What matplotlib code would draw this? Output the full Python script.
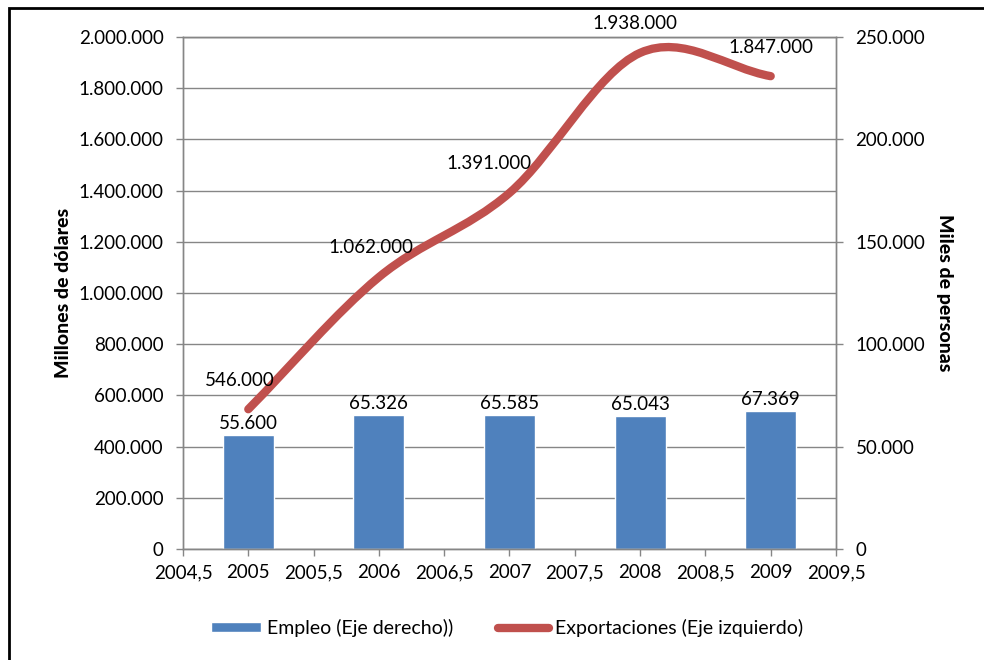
import matplotlib.pyplot as plt
from matplotlib.path import Path
from matplotlib.patches import PathPatch, Patch, Rectangle
from matplotlib.lines import Line2D
from matplotlib.ticker import FuncFormatter, MultipleLocator

plt.rcParams['font.family'] = ['Lato', 'DejaVu Sans']

# datos
years = [2005, 2006, 2007, 2008, 2009]
empleo = [55600, 65326, 65585, 65043, 67369]              # miles de personas
exportaciones = [546000, 1062000, 1391000, 1938000, 1847000]  # millones de dolares
empleo_lbl = ['55.600', '65.326', '65.585', '65.043', '67.369']
export_lbl = ['546.000', '1.062.000', '1.391.000', '1.938.000', '1.847.000']
export_lbl_dx = [-6, -6, -15, -4, 0]   # desplazamiento horizontal de etiquetas (pt)

blue = '#4F81BD'
red = '#C0504D'
grid_c = '#868686'


def miles(v, pos):
    return f'{int(round(v)):,}'.replace(',', '.')


def anios(v, pos):
    if abs(v - round(v)) < 1e-6:
        return str(int(round(v)))
    return f'{v:.1f}'.replace('.', ',')


def suavizar(x, y):
    # curva bezier tipo catmull-rom como la linea suavizada de excel
    n = len(x)
    m = []
    for i in range(n):
        if i == 0:
            m.append((y[1] - y[0]) / (x[1] - x[0]))
        elif i == n - 1:
            m.append((y[-1] - y[-2]) / (x[-1] - x[-2]))
        else:
            m.append((y[i + 1] - y[i - 1]) / (x[i + 1] - x[i - 1]))
    verts = [(x[0], y[0])]
    codes = [Path.MOVETO]
    for i in range(n - 1):
        dx = (x[i + 1] - x[i]) / 3
        verts += [(x[i] + dx, y[i] + m[i] * dx),
                  (x[i + 1] - dx, y[i + 1] - m[i + 1] * dx),
                  (x[i + 1], y[i + 1])]
        codes += [Path.CURVE4] * 3
    return Path(verts, codes)


fig = plt.figure(figsize=(9.84, 6.6), dpi=100)
ax = fig.add_axes([183 / 984, 1 - 549 / 660, (836 - 183) / 984, (549 - 37) / 660])
ax2 = ax.twinx()

# barras: empleo en el eje derecho
bars = ax2.bar(years, empleo, width=0.39, color=blue, edgecolor='white', linewidth=1, zorder=2)
for b, t in zip(bars, empleo_lbl):
    ax2.annotate(t, (b.get_x() + b.get_width() / 2, b.get_height()),
                 xytext=(0, 2), textcoords='offset points',
                 ha='center', va='bottom', fontsize=13.5)

# lineas de division horizontales del eje izquierdo (cada 200.000)
for gy in range(0, 2000001, 200000):
    ax2.axhline(gy / 8, color=grid_c, linewidth=1, zorder=1)

# linea: exportaciones en el eje izquierdo, dibujada sobre las barras
ax.set_zorder(ax2.get_zorder() + 1)
ax.patch.set_visible(False)
line = PathPatch(suavizar(years, exportaciones), fill=False, edgecolor=red,
                 linewidth=6, capstyle='round', joinstyle='round', zorder=3)
ax.add_patch(line)
for xv, yv, t, dx in zip(years, exportaciones, export_lbl, export_lbl_dx):
    ax.annotate(t, (xv, yv), xytext=(dx, 21), textcoords='offset points',
                ha='center', va='center', fontsize=13.5)

ax.set_xlim(2004.5, 2009.5)
ax.set_ylim(0, 2000000)
ax2.set_ylim(0, 250000)
ax.xaxis.set_major_locator(MultipleLocator(0.5))
ax.yaxis.set_major_locator(MultipleLocator(200000))
ax2.yaxis.set_major_locator(MultipleLocator(50000))
ax.xaxis.set_major_formatter(FuncFormatter(anios))
ax.yaxis.set_major_formatter(FuncFormatter(miles))
ax2.yaxis.set_major_formatter(FuncFormatter(miles))

for a in (ax, ax2):
    for s in a.spines.values():
        s.set_color(grid_c)
        s.set_linewidth(1)
    a.tick_params(colors=grid_c, labelcolor='black', labelsize=13.5,
                  length=5, width=1, direction='out')
ax.tick_params(axis='y', pad=9)
ax2.tick_params(axis='y', pad=9)
ax.tick_params(axis='x', pad=6)

ax.set_ylabel('Millones de dólares', fontsize=14, fontweight='black', labelpad=5)
ax2.set_ylabel('Miles de personas', fontsize=14, fontweight='black',
               rotation=270, labelpad=20)

handles = [Patch(facecolor=blue, edgecolor='white'),
           Line2D([0], [0], color=red, linewidth=6, solid_capstyle='round')]
fig.legend(handles, ['Empleo (Eje derecho))', 'Exportaciones (Eje izquierdo)'],
           loc='center', bbox_to_anchor=(0.515, 1 - 628 / 660), ncol=2,
           frameon=False, fontsize=14, handlelength=2.6, handleheight=0.45,
           handletextpad=0.3, columnspacing=2.3)

# marco del grafico
fig.patches.append(Rectangle((9 / 984, -0.1), 1.2, 1 - 8 / 660 + 0.1,
                             transform=fig.transFigure, fill=False,
                             edgecolor='black', linewidth=2))

fig.savefig('out.png', dpi=100)
